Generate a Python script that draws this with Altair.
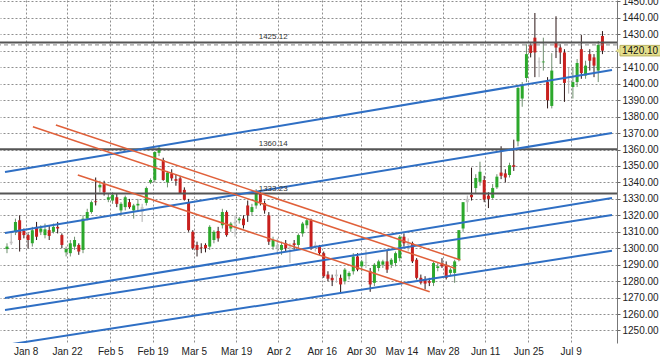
import altair as alt
import pandas as pd

# ---- candle data ----
opens = [1299.5, 1303, 1310, 1317, 1310.5, 1308, 1303, 1313, 1310, 1308,
         1311, 1310, 1313, 1308, 1297.5, 1297, 1301, 1302, 1299, 1318,
         1322, 1328.5, 1337, 1339, 1329.5, 1329, 1331, 1323, 1325, 1328,
         1323, 1326, 1322, 1327.6, 1340, 1341.5, 1358, 1353.6, 1340, 1345.5,
         1342, 1342.5, 1335.5, 1328, 1310, 1302, 1300.5, 1302, 1301, 1305,
         1310.5, 1314, 1322, 1312, 1315, 1317, 1318, 1326, 1322, 1326,
         1333.5, 1327.5, 1320, 1301, 1302, 1299, 1303, 1301, 1303, 1302,
         1309, 1314, 1317, 1301, 1301, 1297, 1284, 1282, 1283, 1282,
         1280, 1283, 1286, 1295, 1289, 1291, 1286, 1279, 1288, 1290,
         1292, 1290, 1291, 1294, 1307, 1302, 1303, 1293, 1282, 1281,
         1280, 1279, 1288, 1291, 1290, 1285, 1285, 1293, 1312, 1328,
         1332.5, 1336.6, 1340.4, 1341.5, 1332, 1330.6, 1337, 1346, 1345.5, 1344.5,
         1350.5, 1365, 1391, 1403.5, 1423.5, 1428, 1413.5, 1413, 1401, 1386.5,
         1425, 1422, 1419, 1401.5, 1398, 1401, 1421, 1405, 1418, 1416,
         1408, 1429]
highs = [1303, 1310, 1318, 1320, 1312, 1309, 1313, 1316, 1314, 1315,
         1314, 1315, 1316, 1309, 1301, 1305, 1307, 1303, 1320, 1324,
         1329, 1343, 1341, 1341, 1333, 1334, 1333, 1328, 1332, 1330,
         1327, 1330, 1327, 1337.5, 1342.5, 1359, 1362, 1355, 1347, 1348,
         1345, 1344, 1337, 1330, 1311, 1304, 1303, 1303, 1314, 1311,
         1313, 1324, 1323, 1316, 1320, 1319, 1320, 1329, 1327, 1336,
         1335, 1329, 1322, 1307, 1306, 1304, 1305, 1303, 1305, 1309,
         1316, 1318, 1318, 1304, 1302, 1298, 1286, 1284, 1287, 1284,
         1288, 1286, 1297, 1297, 1293, 1299, 1288, 1291, 1293, 1293,
         1299, 1294, 1298, 1308, 1309, 1306, 1304, 1294, 1284, 1283,
         1282, 1292, 1291, 1294, 1292, 1288, 1293, 1311, 1328, 1332,
         1349, 1345, 1352.6, 1344, 1334, 1339, 1345, 1362, 1348, 1352,
         1366, 1398, 1401, 1424, 1424.5, 1443, 1416, 1428, 1404, 1418.6,
         1441, 1424, 1421, 1410, 1410, 1415, 1429.6, 1414, 1421, 1418,
         1426, 1432]
lows = [1297, 1302, 1308, 1298, 1306, 1300, 1301, 1305, 1308, 1306,
        1305, 1309, 1309, 1300, 1295, 1295, 1299, 1296, 1297, 1317,
        1321, 1326, 1334, 1332, 1328, 1327, 1325, 1320, 1323, 1324,
        1318, 1322, 1316, 1326, 1339, 1340, 1356, 1341, 1337, 1341,
        1338, 1333, 1329, 1310, 1299, 1295, 1297, 1297.5, 1299, 1303,
        1304, 1312, 1307, 1310, 1307, 1315, 1312, 1316, 1320, 1324,
        1326, 1321, 1302, 1299, 1296, 1296, 1298, 1291, 1299, 1300,
        1307, 1312, 1299, 1298, 1296, 1282, 1280, 1277, 1279, 1273,
        1278, 1281, 1284, 1286, 1286, 1288, 1273.5, 1277, 1286, 1288,
        1285, 1288, 1289, 1292, 1301, 1298, 1291, 1281, 1278, 1275,
        1277, 1277, 1286, 1288, 1281, 1283, 1279, 1292, 1310, 1322,
        1329, 1333, 1338, 1328, 1324.4, 1330, 1336, 1342, 1340, 1343,
        1347, 1362, 1386, 1401, 1416, 1404, 1404, 1408, 1385, 1385,
        1415.6, 1412, 1389, 1394, 1391, 1398, 1403, 1403, 1408, 1404,
        1401, 1418]
closes = [1301, 1304, 1316, 1305, 1308, 1305, 1311, 1307, 1312, 1311.5,
          1307.5, 1313, 1312, 1302, 1299.5, 1303, 1305, 1298, 1318, 1322,
          1328, 1328, 1338.5, 1334, 1331, 1332.5, 1327, 1327, 1331, 1325,
          1326, 1327, 1325, 1336.6, 1341.5, 1358.5, 1361, 1341.5, 1346, 1342.5,
          1341, 1333.5, 1329.5, 1311, 1300, 1299, 1300, 1300, 1313, 1310,
          1306, 1322, 1308, 1315, 1316, 1318, 1314, 1320, 1325, 1333.5,
          1328, 1323, 1304, 1305, 1300, 1302, 1300, 1300, 1302, 1308,
          1315, 1317, 1300, 1302, 1297, 1283, 1281.5, 1280.5, 1284, 1278,
          1287, 1285, 1295, 1287, 1292, 1291.5, 1278, 1290, 1292, 1292,
          1287, 1293, 1297, 1307, 1303, 1303, 1292, 1282, 1279, 1278.5,
          1279, 1291, 1289, 1289, 1282, 1287, 1292, 1311, 1328, 1330,
          1331, 1342.7, 1346.5, 1329.6, 1330, 1336.6, 1343.5, 1344, 1343, 1350.5,
          1349.5, 1397.4, 1399, 1418, 1418.7, 1419, 1413, 1413.5, 1390, 1408,
          1422, 1419, 1400.5, 1401, 1401, 1412.6, 1406.5, 1411, 1414, 1411,
          1423.6, 1420.1]
flat_candles = [1, 32, 54, 64, 67, 73, 78, 85, 95, 109, 126, 133]

# ---- axis labels ----
date_pos = [4.43, 14.21, 24.46, 34.47, 44.26, 54.27, 64.29, 74.54, 83.86,
            93.41, 103.19, 113.2, 123.46, 133.47]
date_labels = ["Jan 8", "Jan 22", "Feb 5", "Feb 19", "Mar 5", "Mar 19", "Apr 2",
               "Apr 16", "Apr 30", "May 14", "May 28", "Jun 11", "Jun 25", "Jul 9"]
price_ticks = list(range(1250, 1451, 10))

# ---- horizontal levels ----
levels = [1425.12, 1360.14, 1333.23]
level_text = ["1425.12", "1360.14", "1333.23"]
level_label_pos = [59.6, 59.6, 59.6]
ask_level = [1423.6]
last_price = [1420.10]

# ---- trend lines (bar index, price) ----
blue_x0 = [-0.47, -0.47, -0.47, -0.47, -0.47]
blue_y0 = [1346.35, 1309.3, 1269.8, 1262.5, 1241.1]
blue_x1 = [143.26, 143.26, 143.26, 143.26, 143.26]
blue_y1 = [1408.36, 1370.06, 1330.5, 1320.2, 1298.5]
orange_x0 = [6.13, 11.58, 16.77]
orange_y0 = [1373.89, 1374.92, 1344.53]
orange_x1 = [106.22, 107.38, 100.09]
orange_y1 = [1287.69, 1292.86, 1273.59]

FONT = "Liberation Sans"
xs = alt.Scale(domain=[-0.47, 143.26], nice=False, zero=False)
ys = alt.Scale(domain=[1242.4, 1450.9], nice=False, zero=False)

n = len(opens)
kinds = []
for k in range(n):
    if k in flat_candles:
        kinds.append("flat")
    elif closes[k] >= opens[k]:
        kinds.append("up")
    else:
        kinds.append("down")
candles = pd.DataFrame({"i": list(range(n)), "open": opens, "high": highs,
                        "low": lows, "close": closes, "kind": kinds})

lab_expr = "[" + ",".join("'%s'" % s for s in date_labels) + "][indexof([" + \
    ",".join(str(p) for p in date_pos) + "], datum.value)]"

GRID = "#8e8e8e"
xaxis = alt.Axis(values=date_pos, labelExpr=lab_expr, grid=True, gridDash=[2, 2],
                 gridColor=GRID, gridWidth=1, tickSize=0, domain=False,
                 labelFont=FONT, labelFontSize=10, labelColor="#222",
                 labelPadding=3, labelFlush=False, labelOverlap=False,
                 labelBound=False, title=None)
yaxis = alt.Axis(orient="right", values=price_ticks, format=".2f", grid=True,
                 gridDash=[2, 2], gridColor=GRID, gridWidth=1, tickSize=3,
                 tickColor="#666", domain=True, domainColor="#777",
                 labelFont=FONT, labelFontSize=10, labelColor="#222",
                 labelPadding=2, labelOverlap=False, labelFlush=False,
                 labelSeparation=0, title=None)

wicks = alt.Chart(candles).mark_rule(strokeWidth=1).encode(
    x=alt.X("i:Q", scale=xs, axis=xaxis),
    y=alt.Y("low:Q", scale=ys, axis=yaxis),
    y2="high:Q",
    stroke=alt.Stroke("kind:N", scale=alt.Scale(domain=["up", "down", "flat"],
                      range=["#6f8f6f", "#2a1414", "#b0b0b0"]), legend=None),
)
bodies = alt.Chart(candles).mark_bar(width=3).encode(
    x=alt.X("i:Q", axis=xaxis),
    y=alt.Y("open:Q", axis=yaxis),
    y2="close:Q",
    fill=alt.Fill("kind:N", scale=alt.Scale(domain=["up", "down", "flat"],
                  range=["#2ca82c", "#c8201e", "#c4c4c4"]), legend=None),
)

lev_df = pd.DataFrame({"level": levels, "txt": level_text, "lx": level_label_pos})
lev_lines = alt.Chart(lev_df).mark_rule(color="#555", strokeWidth=2).encode(
    y=alt.Y("level:Q", axis=yaxis))
lev_text = alt.Chart(lev_df).mark_text(align="left", baseline="bottom", dy=-1,
                                       font=FONT, fontSize=8, color="#333").encode(
    x=alt.X("lx:Q", axis=xaxis), y=alt.Y("level:Q", axis=yaxis), text="txt:N")

ask_df = pd.DataFrame({"ask": ask_level})
ask_line = alt.Chart(ask_df).mark_rule(color="#888", strokeWidth=1,
                                       strokeDash=[4, 3]).encode(
    y=alt.Y("ask:Q", axis=yaxis))

blue_df = pd.DataFrame({"x0": blue_x0, "y0": blue_y0, "x1": blue_x1, "y1": blue_y1})
blue = alt.Chart(blue_df).mark_rule(color="#2f6fc4", strokeWidth=2, clip=True).encode(
    x=alt.X("x0:Q", axis=xaxis), x2="x1:Q", y=alt.Y("y0:Q", axis=yaxis), y2="y1:Q")
orange_df = pd.DataFrame({"x0": orange_x0, "y0": orange_y0, "x1": orange_x1, "y1": orange_y1})
orange = alt.Chart(orange_df).mark_rule(color="#e0603a", strokeWidth=1.5, clip=True).encode(
    x=alt.X("x0:Q", axis=xaxis), x2="x1:Q", y=alt.Y("y0:Q", axis=yaxis), y2="y1:Q")

lp_df = pd.DataFrame({"p": last_price, "hi": [last_price[0] + 3.2],
                      "lo": [last_price[0] - 3.2], "t": ["%.2f" % last_price[0]]})
lp_box = alt.Chart(lp_df).mark_rect(fill="#e4df8c", stroke="#b9b260", strokeWidth=1).encode(
    x=alt.value(620), x2=alt.value(664), y=alt.Y("hi:Q", axis=yaxis), y2="lo:Q")
lp_tri = alt.Chart(lp_df).mark_point(shape="triangle-left", filled=True, size=35,
                                     color="#e4df8c", opacity=1).encode(
    x=alt.value(618), y=alt.Y("p:Q", axis=yaxis))
lp_text = alt.Chart(lp_df).mark_text(align="left", baseline="middle", font=FONT,
                                     fontSize=10, color="#111").encode(
    x=alt.value(622), y=alt.Y("p:Q", axis=yaxis), text="t:N")

chart = alt.layer(
    wicks, bodies, lev_lines, ask_line, blue, orange, lev_text, lp_box, lp_tri, lp_text
).properties(
    width=617, height=343,
    padding={"left": 0, "top": 0, "right": 43, "bottom": 12},
    autosize=alt.AutoSizeParams(type="none"),
    background="white",
).configure_view(stroke=None).configure_axis(labelOverlap=False)

chart.save("out.html", embed_options={"renderer": "svg", "actions": False})
